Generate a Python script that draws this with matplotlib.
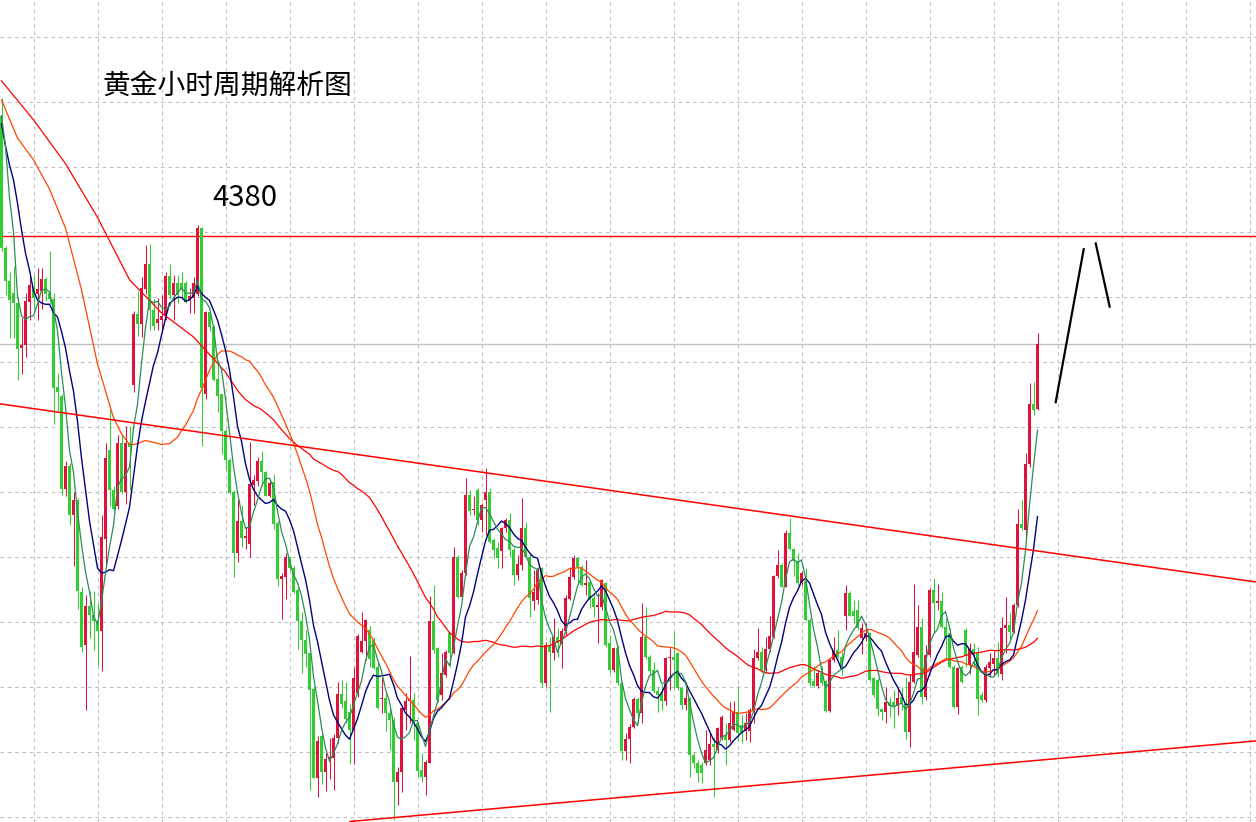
import numpy as np
import pandas as pd
import matplotlib
matplotlib.use("Agg")
import matplotlib.pyplot as plt

# ---------------- data (hourly gold candles) ----------------
opens = [
4417.2, 4376.4, 4366.2, 4362.6, 4359.6, 4345.7, 4346.6, 4359.8, 4364.6, 4362.2,
4363.2, 4367.0, 4362.6, 4360.8, 4333.8, 4330.8, 4302.4, 4309.4, 4294.2, 4299.0,
4270.6, 4254.4, 4266.4, 4263.4, 4261.8, 4258.6, 4287.0, 4314.4, 4302.0, 4297.2,
4316.4, 4301.4, 4316.4, 4334.4, 4356.0, 4353.0, 4363.8, 4371.6, 4357.4, 4353.4,
4354.2, 4355.4, 4367.8, 4362.0, 4365.6, 4365.8, 4365.8, 4360.6, 4361.2, 4362.3,
4382.6, 4331.6, 4356.7, 4352.1, 4336.2, 4331.4, 4320.0, 4311.1, 4301.5, 4282.7,
4292.4, 4287.2, 4285.5, 4303.4, 4304.9, 4310.9, 4307.5, 4300.3, 4304.5, 4291.8,
4274.7, 4275.3, 4281.3, 4278.1, 4271.3, 4261.6, 4255.9, 4251.7, 4240.8, 4213.5,
4226.3, 4215.3, 4219.2, 4219.5, 4225.8, 4239.2, 4237.2, 4233.8, 4228.1, 4239.4,
4252.3, 4255.4, 4258.9, 4255.9, 4247.4, 4237.6, 4237.9, 4233.3, 4231.2, 4212.0,
4215.3, 4234.3, 4237.1, 4237.4, 4230.2, 4215.7, 4213.8, 4218.1, 4261.8, 4253.3,
4238.9, 4245.1, 4257.9, 4251.8, 4281.5, 4269.2, 4276.4, 4300.5, 4295.7, 4302.0,
4292.8, 4299.0, 4301.5, 4286.6, 4284.1, 4283.1, 4290.2, 4292.8, 4283.6, 4275.9,
4279.0, 4290.2, 4281.5, 4267.7, 4268.2, 4277.9, 4242.5, 4254.3, 4251.8, 4256.7,
4254.6, 4258.6, 4268.5, 4275.2, 4281.0, 4278.4, 4272.8, 4273.8, 4268.7, 4266.1,
4266.1, 4273.3, 4254.8, 4246.6, 4253.3, 4242.7, 4221.8, 4225.3, 4229.0, 4237.7,
4233.5, 4256.7, 4250.7, 4246.6, 4240.3, 4239.4, 4237.2, 4250.2, 4250.7, 4251.8,
4241.0, 4235.9, 4237.9, 4220.5, 4217.9, 4217.4, 4217.9, 4218.9, 4223.9, 4222.0,
4225.6, 4226.6, 4225.1, 4228.2, 4233.8, 4229.7, 4227.7, 4227.7, 4234.3, 4250.2,
4252.3, 4246.7, 4253.0, 4256.9, 4275.4, 4279.0, 4272.3, 4288.9, 4283.8, 4280.0,
4273.4, 4273.9, 4262.1, 4243.1, 4241.8, 4245.6, 4243.1, 4234.1, 4249.7, 4252.8,
4250.7, 4263.3, 4270.2, 4264.8, 4265.1, 4256.4, 4256.4, 4257.9, 4244.1, 4243.6,
4234.5, 4233.8, 4236.9, 4236.9, 4235.4, 4238.3, 4236.3, 4227.6, 4243.0, 4251.2,
4259.9, 4238.4, 4251.2, 4271.2, 4267.1, 4267.9, 4259.9, 4257.9, 4247.6, 4235.3,
4247.6, 4258.9, 4248.1, 4253.2, 4251.7, 4238.9, 4237.3, 4247.1, 4248.6, 4250.2,
4245.5, 4259.4, 4260.4, 4258.4, 4266.6, 4291.5, 4289.7, 4310.0, 4328.4, 4326.8,
]
highs = [
4422.6, 4377.0, 4369.2, 4371.0, 4361.4, 4354.8, 4362.6, 4368.2, 4368.0, 4370.4,
4370.4, 4367.4, 4375.4, 4362.6, 4338.0, 4331.4, 4311.0, 4310.4, 4301.4, 4299.6,
4272.0, 4269.6, 4270.8, 4270.8, 4267.2, 4294.2, 4316.4, 4326.6, 4303.2, 4318.8,
4318.8, 4321.8, 4321.8, 4357.2, 4363.2, 4367.4, 4377.4, 4377.6, 4360.8, 4361.0,
4362.0, 4369.2, 4371.6, 4368.2, 4368.0, 4369.2, 4366.3, 4364.0, 4367.5, 4383.4,
4382.8, 4357.2, 4357.2, 4352.7, 4341.9, 4331.6, 4320.8, 4311.7, 4302.0, 4299.2,
4297.5, 4290.6, 4316.8, 4306.6, 4312.3, 4314.0, 4307.7, 4305.4, 4306.8, 4292.4,
4276.4, 4282.7, 4281.5, 4278.7, 4271.9, 4264.5, 4258.8, 4251.9, 4241.5, 4226.4,
4226.9, 4221.2, 4225.8, 4226.9, 4242.8, 4243.4, 4242.9, 4236.0, 4247.4, 4257.7,
4264.6, 4262.2, 4260.3, 4256.9, 4249.7, 4244.6, 4239.4, 4234.8, 4232.3, 4216.9,
4235.3, 4239.4, 4251.0, 4239.4, 4230.7, 4221.0, 4218.9, 4269.4, 4272.8, 4253.8,
4251.8, 4252.8, 4258.4, 4284.4, 4282.0, 4277.4, 4305.6, 4302.0, 4300.0, 4302.5,
4297.9, 4308.7, 4302.5, 4287.2, 4286.1, 4290.7, 4293.3, 4294.8, 4284.4, 4282.0,
4299.5, 4292.3, 4282.5, 4277.4, 4278.4, 4278.4, 4255.3, 4256.9, 4262.5, 4259.5,
4259.5, 4269.7, 4278.4, 4282.0, 4281.3, 4278.9, 4280.5, 4274.3, 4269.7, 4270.2,
4274.5, 4273.8, 4257.4, 4253.8, 4254.3, 4243.0, 4227.1, 4230.0, 4238.4, 4238.4,
4267.2, 4266.1, 4251.2, 4249.2, 4241.5, 4242.3, 4250.7, 4253.3, 4258.4, 4252.3,
4241.5, 4243.0, 4238.4, 4221.5, 4218.9, 4218.4, 4228.2, 4227.1, 4226.1, 4229.2,
4232.8, 4230.2, 4236.9, 4237.2, 4241.7, 4232.8, 4233.3, 4234.8, 4253.0, 4259.5,
4253.8, 4256.9, 4263.3, 4275.9, 4283.6, 4279.5, 4289.7, 4293.3, 4284.1, 4282.6,
4277.0, 4278.0, 4262.6, 4247.7, 4246.6, 4247.7, 4243.6, 4250.2, 4256.9, 4259.0,
4252.0, 4272.8, 4270.8, 4268.2, 4268.2, 4261.0, 4261.0, 4258.4, 4244.6, 4244.1,
4234.8, 4241.5, 4238.4, 4240.5, 4241.5, 4241.4, 4244.5, 4245.5, 4273.2, 4266.6,
4262.5, 4254.3, 4271.7, 4274.8, 4273.2, 4270.7, 4262.5, 4259.4, 4248.1, 4247.6,
4248.1, 4259.4, 4254.8, 4254.8, 4253.7, 4239.9, 4248.6, 4251.7, 4252.7, 4255.3,
4263.0, 4269.1, 4264.0, 4267.1, 4296.3, 4298.9, 4313.3, 4334.8, 4335.3, 4350.2,
]
lows = [
4375.5, 4362.0, 4348.8, 4348.8, 4335.8, 4337.6, 4342.8, 4354.2, 4357.8, 4354.2,
4357.8, 4360.0, 4359.6, 4322.4, 4326.0, 4300.6, 4300.2, 4291.2, 4278.6, 4265.4,
4252.2, 4234.2, 4256.4, 4252.8, 4248.0, 4246.2, 4278.6, 4297.2, 4295.4, 4296.0,
4300.8, 4297.8, 4302.0, 4332.2, 4349.4, 4349.0, 4362.2, 4351.2, 4351.2, 4351.2,
4351.2, 4354.2, 4360.8, 4354.2, 4359.6, 4361.2, 4359.5, 4356.6, 4356.6, 4361.8,
4315.4, 4329.9, 4351.0, 4335.6, 4325.9, 4313.2, 4308.3, 4300.9, 4275.3, 4279.8,
4284.4, 4283.8, 4281.5, 4297.5, 4303.2, 4303.2, 4300.0, 4299.7, 4290.0, 4272.5,
4262.4, 4268.5, 4277.0, 4270.2, 4253.1, 4245.7, 4247.4, 4209.8, 4213.3, 4207.6,
4211.6, 4209.3, 4213.2, 4209.8, 4224.1, 4234.9, 4230.4, 4217.8, 4217.8, 4238.3,
4251.8, 4249.7, 4247.6, 4246.8, 4234.5, 4233.3, 4227.7, 4222.0, 4200.5, 4205.0,
4209.2, 4228.2, 4230.2, 4225.1, 4213.8, 4212.0, 4208.2, 4217.9, 4251.8, 4236.9,
4237.4, 4244.6, 4247.6, 4251.6, 4268.7, 4268.7, 4275.9, 4294.3, 4294.3, 4291.3,
4289.2, 4288.2, 4285.6, 4281.0, 4277.9, 4277.9, 4289.2, 4281.5, 4272.8, 4274.3,
4277.4, 4281.0, 4263.0, 4265.1, 4267.0, 4241.5, 4241.5, 4233.8, 4249.7, 4250.7,
4247.1, 4257.4, 4268.2, 4274.5, 4273.3, 4272.5, 4269.7, 4265.6, 4263.0, 4254.8,
4265.1, 4253.8, 4245.6, 4246.1, 4242.0, 4218.9, 4218.9, 4217.9, 4228.7, 4230.4,
4230.2, 4249.9, 4245.1, 4239.4, 4233.8, 4234.3, 4235.9, 4240.5, 4241.0, 4240.5,
4234.5, 4234.3, 4213.8, 4216.4, 4212.3, 4211.8, 4217.4, 4217.4, 4207.6, 4221.0,
4225.1, 4217.4, 4224.6, 4227.7, 4225.1, 4224.1, 4225.1, 4224.6, 4230.2, 4249.7,
4245.6, 4245.6, 4252.3, 4256.4, 4274.9, 4272.1, 4272.1, 4283.6, 4275.4, 4272.8,
4272.8, 4261.6, 4241.6, 4241.5, 4241.0, 4242.0, 4233.8, 4233.8, 4249.2, 4250.2,
4245.0, 4259.0, 4263.1, 4261.0, 4259.0, 4251.6, 4255.4, 4243.1, 4238.4, 4232.5,
4231.3, 4230.2, 4232.3, 4228.7, 4232.8, 4234.4, 4225.5, 4223.0, 4242.5, 4250.7,
4236.3, 4237.3, 4250.7, 4258.4, 4265.0, 4259.4, 4250.2, 4247.1, 4234.8, 4233.2,
4242.5, 4247.6, 4245.5, 4247.6, 4232.7, 4236.8, 4236.8, 4244.5, 4245.0, 4244.5,
4243.5, 4251.7, 4256.3, 4257.9, 4266.1, 4289.7, 4286.6, 4309.2, 4325.1, 4326.6,
]
closes = [
4376.4, 4366.2, 4360.6, 4359.6, 4345.4, 4346.6, 4360.0, 4365.2, 4361.0, 4363.8,
4367.0, 4362.2, 4360.8, 4333.4, 4332.0, 4302.4, 4309.4, 4294.2, 4299.0, 4270.8,
4253.8, 4266.4, 4263.4, 4261.6, 4258.6, 4287.4, 4311.8, 4302.0, 4296.0, 4316.4,
4301.4, 4316.4, 4315.2, 4356.0, 4353.0, 4364.0, 4371.6, 4357.4, 4352.4, 4354.6,
4355.6, 4367.8, 4362.0, 4365.6, 4362.0, 4363.5, 4359.8, 4361.8, 4365.8, 4382.6,
4333.3, 4356.7, 4352.1, 4335.9, 4331.0, 4320.0, 4311.1, 4301.1, 4282.5, 4292.4,
4287.2, 4287.8, 4303.7, 4305.1, 4310.9, 4307.5, 4300.3, 4304.3, 4291.4, 4274.7,
4275.6, 4281.3, 4277.9, 4270.7, 4261.6, 4255.9, 4251.4, 4240.6, 4213.5, 4224.7,
4215.3, 4219.3, 4219.9, 4225.8, 4239.2, 4236.0, 4231.5, 4228.1, 4244.2, 4257.1,
4255.4, 4262.0, 4250.0, 4247.1, 4234.8, 4238.1, 4233.3, 4231.2, 4212.0, 4215.3,
4234.8, 4237.2, 4237.6, 4230.2, 4215.4, 4213.8, 4218.4, 4261.8, 4252.8, 4237.4,
4245.6, 4252.3, 4251.8, 4281.5, 4269.2, 4276.4, 4300.5, 4295.4, 4296.0, 4292.8,
4297.4, 4301.5, 4286.1, 4283.6, 4281.0, 4290.2, 4292.8, 4283.6, 4275.9, 4279.3,
4290.2, 4281.5, 4268.7, 4270.7, 4277.4, 4242.5, 4254.3, 4252.0, 4256.7, 4254.8,
4258.6, 4268.7, 4275.2, 4281.0, 4278.4, 4272.8, 4273.3, 4268.2, 4266.1, 4266.6,
4274.3, 4254.3, 4246.6, 4253.3, 4242.5, 4221.8, 4225.3, 4229.2, 4237.7, 4233.5,
4256.7, 4250.5, 4246.4, 4240.0, 4238.9, 4237.2, 4250.2, 4250.7, 4249.7, 4241.0,
4235.9, 4237.9, 4220.5, 4217.9, 4214.8, 4214.8, 4222.0, 4223.9, 4223.0, 4228.7,
4232.1, 4225.1, 4230.4, 4233.8, 4227.2, 4227.2, 4230.2, 4234.3, 4250.2, 4252.3,
4246.7, 4253.0, 4257.1, 4275.4, 4279.0, 4272.3, 4288.9, 4283.8, 4280.0, 4273.3,
4276.4, 4262.1, 4242.6, 4241.8, 4245.6, 4242.5, 4234.1, 4249.7, 4252.8, 4250.7,
4246.9, 4270.2, 4263.3, 4263.3, 4259.5, 4259.5, 4257.9, 4243.4, 4239.0, 4234.5,
4233.8, 4236.9, 4235.4, 4235.4, 4238.0, 4236.3, 4227.6, 4243.0, 4252.2, 4259.9,
4238.4, 4251.2, 4271.2, 4267.1, 4267.9, 4259.7, 4256.8, 4247.6, 4235.3, 4247.1,
4243.0, 4251.2, 4253.2, 4251.2, 4237.8, 4237.3, 4247.6, 4249.1, 4250.2, 4245.5,
4259.4, 4260.4, 4258.4, 4266.6, 4291.5, 4290.2, 4310.0, 4328.4, 4326.6, 4346.9,
]

# moving-average values at the left edge (their inputs lie before the first bar)
ma5_head = [4417.2, 4407.6, 4392.0, 4381.4]                      # bars 1-4
ma10_head = [4414.6, 4407.9, 4402.0, 4397.4, 4390.3, 4382.0, 4374.9, 4369.7, 4363.3]  # bars 1-9
ma30_head_bars = [1, 5, 9, 13, 17, 21, 25, 29]
ma30_head_vals = [4422.0, 4410.3, 4403.6, 4394.6, 4382.6, 4363.6, 4340.8, 4324.2]
ma60_head_bars = [1, 9, 17, 25, 33, 41, 49, 57]
ma60_head_vals = [4427.9, 4415.9, 4402.4, 4385.9, 4366.7, 4356.5, 4349.1, 4338.3]

key_level = 4380.0
key_label = "4380"
title_text = "黄金小时周期解析图"

# drawn trend lines  (bar position, price)
upper_trend = ([0.625, 314.625], [4328.5, 4273.7])
lower_trend = ([88.1, 314.625], [4200.0, 4224.8])
# projected path (black strokes)
path_up = ([264.5, 271.6], [4328.7, 4376.4])
path_down = ([274.5, 278.1], [4378.2, 4358.1])

# ---------------- figure ----------------
plt.rcParams['font.family'] = ['Noto Sans CJK SC', 'DejaVu Sans']

W, H, DPI = 1256, 822, 100
fig = plt.figure(figsize=(W / DPI, H / DPI), dpi=DPI, facecolor='white')
ax = fig.add_axes([0, 0, 1, 1])
ax.set_facecolor('white')

px_per_bar = 4.0
price_per_px = 20.0 / 65.0
x_left = 1 - 1.5 / px_per_bar
ax.set_xlim(x_left, x_left + W / px_per_bar)
y_top = key_level + 236.5 * price_per_px
ax.set_ylim(y_top - H * price_per_px, y_top)
ax.axis('off')

o = np.array(opens); h = np.array(highs); l = np.array(lows); c = np.array(closes)
n = len(c)
bars = np.arange(1, n + 1)

# grid
grid_kw = dict(color='#c0c0c0', lw=0.75, linestyle=(0, (3.5, 3.5)), zorder=0)
for gx in np.arange(9, 330, 16):
    ax.axvline(gx, **grid_kw)
for gy in np.arange(y_top - 36.5 * price_per_px, y_top - H * price_per_px - 1, -20.0):
    ax.axhline(gy, **grid_kw)

# horizontal levels
ax.axhline(key_level, color='#ff0000', lw=1.0, zorder=2)
ax.axhline(c[-1], color='#c0c0c0', lw=1.0, zorder=1)

# candles (red = up, green = down)
up = c >= o
col = np.where(up, '#dc143c', '#32cd32')
hi = np.maximum(h, np.maximum(o, c))
lo = np.minimum(l, np.minimum(o, c))
ax.vlines(bars, lo, hi, colors=col, lw=0.75, zorder=3)
body_lo = np.minimum(o, c)
body_h = np.maximum(np.abs(c - o), 1.0 * price_per_px)
ax.bar(bars, body_h, bottom=body_lo, width=0.75, color=col, linewidth=0, zorder=4)

# moving averages
cs = pd.Series(c, index=bars)
ma5 = cs.rolling(5).mean()
ma5.iloc[:4] = ma5_head
ma10 = cs.rolling(10).mean()
ma10.iloc[:9] = ma10_head
ma30 = cs.rolling(30).mean().dropna()
ma60 = cs.rolling(60).mean().dropna()
ma30_x = list(ma30_head_bars) + list(ma30.index)
ma30_y = list(ma30_head_vals) + list(ma30.values)
ma60_x = list(ma60_head_bars) + list(ma60.index)
ma60_y = list(ma60_head_vals) + list(ma60.values)

ax.plot(ma60_x, ma60_y, color='#ff0000', lw=0.9, zorder=5)
ax.plot(ma30_x, ma30_y, color='#ff4500', lw=0.9, zorder=5)
ax.plot(bars, ma10.values, color='#000080', lw=1.0, zorder=6)
ax.plot(bars, ma5.values, color='#2e8b57', lw=0.9, zorder=6)

# trend lines
ax.plot(*upper_trend, color='#ff0000', lw=1.1, zorder=7)
ax.plot(*lower_trend, color='#ff0000', lw=1.1, zorder=7)

# projected path
ax.plot(*path_up, color='black', lw=1.6, zorder=8, solid_capstyle='butt')
ax.plot(*path_down, color='black', lw=1.6, zorder=8, solid_capstyle='butt')

# texts
ax.text(103 / W, 1 - 86 / H, title_text, transform=ax.transAxes,
        fontsize=20, ha='left', va='center', color='black')
ax.text(1 + (212 - 1.5) / px_per_bar, key_level + (236.5 - 198.5) * price_per_px,
        key_label, fontsize=21, ha='left', va='center', color='black')

fig.savefig('out.png', dpi=DPI, facecolor='white')
